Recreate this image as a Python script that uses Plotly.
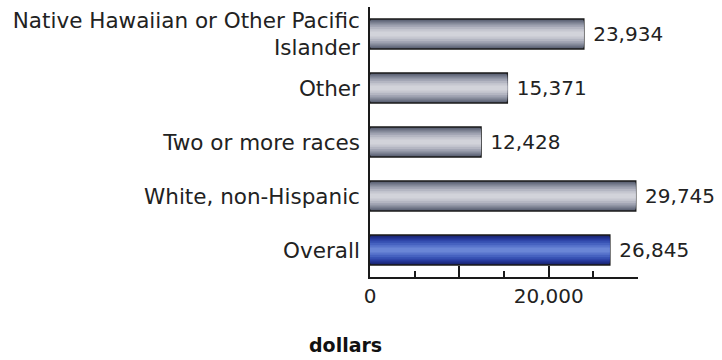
import plotly.graph_objects as go

categories = ["Native Hawaiian or Other Pacific<br>Islander", "Other", "Two or more races",
              "White, non-Hispanic", "Overall"]
values = [23934, 15371, 12428, 29745, 26845]
is_overall = [False, False, False, False, True]
x_tick_vals = [0, 10000, 20000, 30000]
x_tick_text = ["0", "", "20,000", ""]
axis_title = "dollars"

gray_layers = ["#545b6c", "#6c7284", "#858a9a", "#9ea1b0", "#b4b6c2", "#c6c7d0", "#d2d3da"]
blue_layers = ["#18226a", "#1f2e88", "#293ca0", "#3650b2", "#4662c0", "#5874cc", "#6a86d6"]
widths = [0.56, 0.50, 0.43, 0.35, 0.27, 0.18, 0.09]

fig = go.Figure()
for i, w in enumerate(widths):
    colors = [blue_layers[i] if o else gray_layers[i] for o in is_overall]
    fig.add_trace(go.Bar(
        x=values, y=categories, orientation="h", width=w,
        marker=dict(color=colors,
                    line=dict(color="#1a1a1a", width=1.5 if i == 0 else 0)),
        text=[" " + f"{v:,}" for v in values] if i == 0 else None,
        textposition="outside" if i == 0 else "none",
        textfont=dict(family="DejaVu Sans", size=20, color="#222222"),
        cliponaxis=False, showlegend=False, hoverinfo="skip",
    ))

fig.update_layout(
    width=722, height=360, barmode="overlay",
    margin=dict(l=370, r=84, t=7, b=83, autoexpand=False),
    paper_bgcolor="white", plot_bgcolor="white",
    font=dict(family="DejaVu Sans", size=20, color="#222222"),
    xaxis=dict(range=[0, 30000], tickvals=x_tick_vals, ticktext=x_tick_text,
               ticks="inside", ticklen=11, tickwidth=1.5, tickcolor="#1a1a1a",
               minor=dict(dtick=5000, ticks="inside", ticklen=6, tickwidth=1.5,
                          tickcolor="#1a1a1a"),
               showline=True, linecolor="#1a1a1a", linewidth=1.5, automargin=False,
               showgrid=False, zeroline=False,
               tickfont=dict(family="DejaVu Sans", size=20, color="#222222")),
    yaxis=dict(categoryorder="array", categoryarray=categories, autorange="reversed",
               showline=True, linecolor="#1a1a1a", linewidth=1.5, automargin=False,
               ticks="", showgrid=False, zeroline=False, ticklabelstandoff=4,
               tickfont=dict(family="DejaVu Sans", size=21.5, color="#222222")),
    annotations=[dict(text="<b>" + axis_title + "</b>", xref="paper", yref="paper",
                      x=-0.093, y=-0.252, showarrow=False, xanchor="center",
                      yanchor="middle",
                      font=dict(family="DejaVu Sans", size=19, color="#111111"))],
)

fig.write_html("out.html", post_script="document.body.style.margin='0';",
               config={"displayModeBar": False})
